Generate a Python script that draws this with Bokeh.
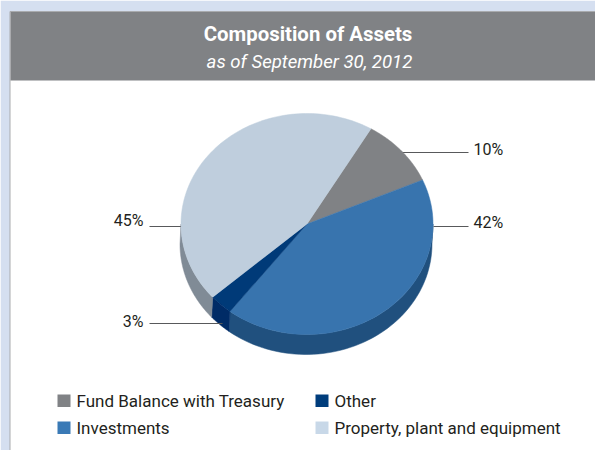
import numpy as np
from bokeh.embed import file_html
from bokeh.models import Range1d
from bokeh.plotting import figure
from bokeh.resources import INLINE

# ---- data ----
categories = ["Fund Balance with Treasury", "Investments", "Other", "Property, plant and equipment"]
values = [10, 42, 3, 45]
pct_labels = ["10%", "42%", "3%", "45%"]
title = "Composition of Assets"
subtitle = "as of September 30, 2012"

# ---- styles ----
top_colors = ["#808285", "#3874AE", "#003A78", "#BFCEDD"]
wall_colors = ["#6F7174", "#20507E", "#002B66", "#808B96"]
legend_colors = ["#808285", "#3A7AB6", "#003D7C", "#C8D8E8"]
FONT = "Roboto"

W, H = 595, 450
p = figure(width=W, height=H, output_backend="svg", toolbar_location=None,
           x_range=Range1d(0, W), y_range=Range1d(H, 0), min_border=0)
p.axis.visible = False
p.grid.visible = False
p.outline_line_color = None
p.background_fill_color = "white"
p.border_fill_color = "white"

# page furniture
p.quad(left=[0], right=[W], top=[0], bottom=[H], fill_color="#D5DFF0", line_color=None)
p.quad(left=[9.5], right=[W], top=[11], bottom=[H], fill_color="white", line_color=None)
p.line([9.5, 9.5], [11, H], line_color="#A9ABAE", line_width=1)
p.line([9.5, W], [11, 11], line_color="#A9ABAE", line_width=1)
p.quad(left=[10], right=[W], top=[11.5], bottom=[80], fill_color="#808285", line_color=None)

p.text([307.5], [33], text=[title], text_color="white", text_align="center", text_baseline="middle",
       text_font={"value": FONT}, text_font_style="bold", text_font_size="20.4px")
p.text([309], [61], text=[subtitle], text_color="white", text_align="center", text_baseline="middle",
       text_font={"value": FONT}, text_font_style="italic", text_font_size="18.6px")

# pie geometry
cx, cy, rx, ry = 306.5, 223.5, 126, 110.5
dx, dy = -1, 20
start = 59.5  # degrees, clockwise

angles = np.array(values) / sum(values) * 360
ends = start - np.cumsum(angles)
starts = ends + angles


def ept(t, sx=0.0, sy=0.0):
    r = np.radians(t)
    return cx + sx + rx * np.cos(r), cy + sy - ry * np.sin(r)


# side walls (only visible lower half, t in 180..360 == -180..0)
for a0, a1, col in zip(starts, ends, wall_colors):
    lo, hi = max(a1, -180), min(a0, 0)
    if lo >= hi:
        continue
    ts = np.linspace(hi, lo, 60)
    x1, y1 = ept(ts)
    x2, y2 = ept(ts[::-1], dx, dy)
    p.patch(np.r_[x1, x2], np.r_[y1, y2], fill_color=col, line_color=col, line_width=0.5)

# leader lines (under the pie)
leaders = [([401, 468], [152, 152]), ([433, 468], [226, 226]), ([149, 222], [323, 323]), ([149, 182], [226, 226])]
for xs, ys in leaders:
    p.line(xs, ys, line_color="#58595B", line_width=1)

# top faces
for a0, a1, col in zip(starts, ends, top_colors):
    ts = np.linspace(a0, a1, 100)
    x, y = ept(ts)
    p.patch(np.r_[cx, x], np.r_[cy, y], fill_color=col, line_color=col, line_width=0.5)

# percent labels
lab_x = [473, 473, 143, 143]
lab_y = [149, 222, 321, 220]
lab_al = ["left", "left", "right", "right"]
for x, y, t, al in zip(lab_x, lab_y, pct_labels, lab_al):
    p.text([x], [y], text=[t], text_color="#231F20", text_align=al, text_baseline="middle",
           text_font={"value": FONT}, text_font_size="16px")

# legend
sq_x = [57, 57, 315, 315]
sq_y = [394, 421, 394, 421]
for i, sx, sy in zip(range(4), sq_x, sq_y):
    p.quad(left=[sx], right=[sx + 13], top=[sy], bottom=[sy + 12.5], fill_color=legend_colors[i], line_color=None)
    p.text([sx + 19], [sy + 6], text=[categories[i]], text_color="#231F20", text_align="left",
           text_baseline="middle", text_font={"value": FONT}, text_font_size="17px")

open("out.html", "w").write(file_html(p, INLINE))
